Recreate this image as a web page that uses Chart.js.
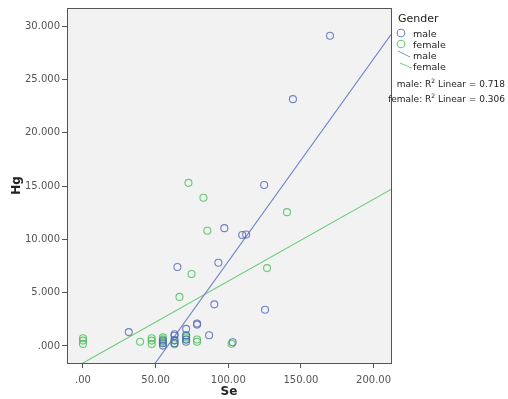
<!DOCTYPE html>
<html><head><meta charset="utf-8">
<script src="https://cdn.jsdelivr.net/npm/chart.js@4"></script>
<style>
body{margin:0;background:#fff;width:508px;height:399px;overflow:hidden;font-family:"DejaVu Sans",sans-serif;}
#wrap{position:absolute;left:0;top:0;width:508px;height:399px;}
.lg{position:absolute;font-size:9.5px;color:#222;white-space:nowrap;}
</style></head><body>
<div id="wrap"><canvas id="c" width="508" height="399"></canvas></div>
<div class="lg" style="left:398px;top:12px;font-size:11px;">Gender</div>
<svg style="position:absolute;left:395px;top:28px" width="20" height="44">
<circle cx="6" cy="5" r="3.8" fill="none" stroke="#6f82c8" stroke-width="1.1"/>
<circle cx="6" cy="16" r="3.8" fill="none" stroke="#66cc73" stroke-width="1.1"/>
<line x1="3" y1="23" x2="15" y2="29" stroke="#7d8fd0" stroke-width="1"/>
<line x1="5" y1="35" x2="17" y2="40" stroke="#72d07e" stroke-width="1"/>
</svg>
<div class="lg" style="left:413px;top:28px;">male</div>
<div class="lg" style="left:413px;top:39px;">female</div>
<div class="lg" style="left:413px;top:50px;">male</div>
<div class="lg" style="left:413px;top:61px;">female</div>
<div class="lg" style="right:3px;top:75px;text-align:right;font-size:9px;line-height:11px;">male: R<sup style="font-size:6px">2</sup> Linear = 0.718<br>female: R<sup style="font-size:6px">2</sup> Linear = 0.306</div>
<script>
const maleSe = [170, 144.5, 124.7, 97.3, 109.6, 112.3, 93.2, 65, 125.3, 90.4, 31.5, 86.8, 78.5, 78.5, 71, 71, 71, 71, 63, 63, 63, 63, 55, 55, 55, 103];
const maleHg = [29.1, 23.15, 15.1, 11.05, 10.4, 10.45, 7.8, 7.4, 3.4, 3.9, 1.3, 1.0, 2.1, 2.0, 1.6, 0.95, 0.6, 0.4, 1.1, 0.95, 0.55, 0.25, 0.03, 0.25, 0.5, 0.35];
const femaleSe = [72.6, 82.9, 85.6, 140.4, 126.7, 74.7, 66.4, 0, 0, 0, 39.3, 47.3, 47.3, 47.3, 55, 55, 55, 55, 63, 63, 63, 71, 71, 71, 78.5, 78.5, 102.3];
const femaleHg = [15.3, 13.9, 10.8, 12.55, 7.3, 6.75, 4.6, 0.72, 0.5, 0.19, 0.4, 0.72, 0.5, 0.19, 0.8, 0.62, 0.4, 0.25, 0.25, 0.16, 0.5, 1.03, 0.8, 0.6, 0.6, 0.4, 0.2];
const maleFit = {intercept: -11.07, slope: 0.190};
const femaleFit = {intercept: -1.6, slope: 0.0768};
const xRange = [-11, 212];
const yRange = [-1.6, 31.7];
const xTicks = [0, 50, 100, 150, 200];
const yTicks = [0, 5, 10, 15, 20, 25, 30];

const pts = (xs, ys) => xs.map((x, i) => ({x, y: ys[i]}));
const fit = f => xRange.map(x => ({x, y: f.intercept + f.slope * x}));
const fmt = (v, d) => { let s = v.toFixed(d); return s.startsWith('0.') ? s.slice(1) : s; };

const frame = {
  id: 'frame',
  beforeDatasetsDraw(c) {
    const a = c.chartArea, g = c.ctx;
    g.save(); g.fillStyle = '#f2f2f2'; g.fillRect(a.left, a.top, a.right - a.left, a.bottom - a.top); g.restore();
  },
  afterDatasetsDraw(c) {
    const a = c.chartArea, g = c.ctx;
    g.save(); g.strokeStyle = '#555'; g.lineWidth = 1;
    g.strokeRect(Math.round(a.left) + 0.5, Math.round(a.top) + 0.5, Math.round(a.right - a.left), Math.round(a.bottom - a.top));
    g.restore();
  }
};

new Chart(document.getElementById('c'), {
  type: 'scatter',
  data: { datasets: [
    {label: 'male', data: pts(maleSe, maleHg), pointRadius: 3.5, pointHoverRadius: 3.5, borderWidth: 1.1, borderColor: 'rgba(80,100,190,0.8)', backgroundColor: 'rgba(0,0,0,0)'},
    {label: 'female', data: pts(femaleSe, femaleHg), pointRadius: 3.5, pointHoverRadius: 3.5, borderWidth: 1.1, borderColor: 'rgba(70,190,85,0.8)', backgroundColor: 'rgba(0,0,0,0)'},
    {label: 'male fit', type: 'line', data: fit(maleFit), showLine: true, pointRadius: 0, borderWidth: 1.1, borderColor: '#6f82c6'},
    {label: 'female fit', type: 'line', data: fit(femaleFit), showLine: true, pointRadius: 0, borderWidth: 1.1, borderColor: '#6acd77'}
  ]},
  plugins: [frame],
  options: {
    responsive: false, animation: false,
    layout: {padding: {left: 0, right: 117, top: 8, bottom: 0}},
    plugins: {legend: {display: false}, tooltip: {enabled: false}},
    scales: {
      x: {
        type: 'linear', min: xRange[0], max: xRange[1],
        afterBuildTicks: s => { s.ticks = xTicks.map(v => ({value: v})); },
        afterFit: s => { s.height = 36; },
        grid: {drawOnChartArea: false, drawTicks: true, tickLength: 5, color: '#555'},
        border: {display: false},
        ticks: {callback: v => fmt(v, 2), font: {family: 'DejaVu Sans', size: 10}, color: '#555', padding: 6, maxRotation: 0},
        title: {display: true, text: 'Se', font: {family: 'DejaVu Sans', size: 12, weight: 'bold'}, color: '#222', padding: {top: 0, bottom: 0}}
      },
      y: {
        type: 'linear', min: yRange[0], max: yRange[1],
        afterBuildTicks: s => { s.ticks = yTicks.map(v => ({value: v})); },
        afterFit: s => { s.width = 67; },
        grid: {drawOnChartArea: false, drawTicks: true, tickLength: 5, color: '#555'},
        border: {display: false},
        ticks: {callback: v => fmt(v, 3), font: {family: 'DejaVu Sans', size: 10}, color: '#555', padding: 2},
        title: {display: true, text: 'Hg', font: {family: 'DejaVu Sans', size: 12, weight: 'bold'}, color: '#222', padding: {top: 10, bottom: 4}}
      }
    }
  }
});
</script>
</body></html>
